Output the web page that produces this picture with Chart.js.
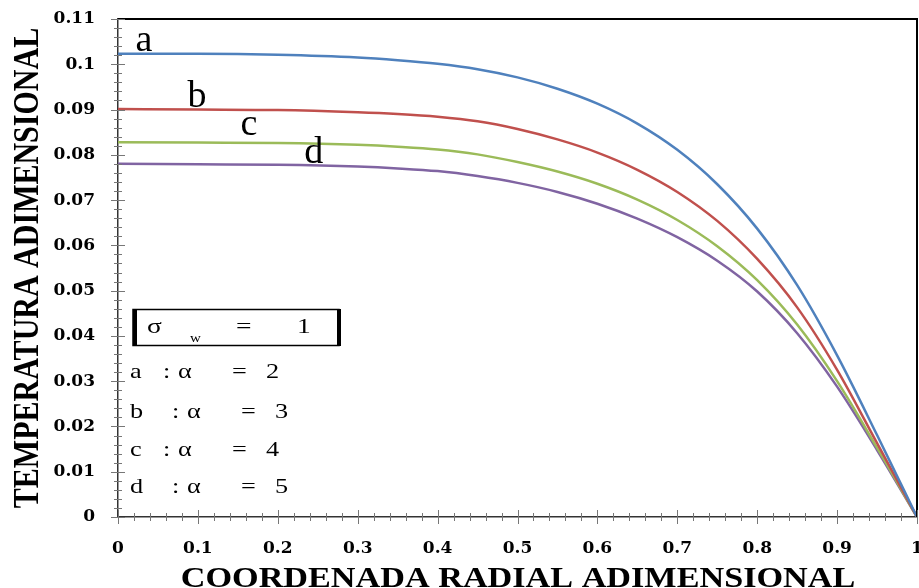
<!DOCTYPE html>
<html>
<head>
<meta charset="utf-8">
<script src="https://cdn.jsdelivr.net/npm/chart.js@4.4.0/dist/chart.umd.min.js"></script>
<style>
  html, body { margin: 0; padding: 0; background: #fff; }
  #wrap { width: 919px; height: 588px; position: relative; }
</style>
</head>
<body>
<div id="wrap"><canvas id="chart"></canvas></div>
<script>
// ----- Data -----
const radius = [0, 0.1, 0.2, 0.3, 0.35, 0.4, 0.45, 0.5, 0.55, 0.6, 0.65, 0.7, 0.75, 0.8, 0.85, 0.9, 0.95, 1];
const tempA = [0.1023, 0.1023, 0.1021, 0.1015, 0.1009, 0.1001, 0.0989, 0.0971, 0.0946, 0.0913, 0.0869, 0.0811, 0.0735, 0.0637, 0.0512, 0.0357, 0.0181, 0];
const tempB = [0.0901, 0.0900, 0.0899, 0.0894, 0.0890, 0.0884, 0.0874, 0.0857, 0.0834, 0.0805, 0.0767, 0.0718, 0.0654, 0.0570, 0.0463, 0.0325, 0.0163, 0];
const tempC = [0.0828, 0.0827, 0.0826, 0.0822, 0.0818, 0.0812, 0.0801, 0.0784, 0.0763, 0.0736, 0.0701, 0.0656, 0.0598, 0.0523, 0.0425, 0.0300, 0.0153, 0];
const tempD = [0.0780, 0.0779, 0.0778, 0.0774, 0.0770, 0.0764, 0.0753, 0.0738, 0.0718, 0.0692, 0.0659, 0.0618, 0.0566, 0.0498, 0.0406, 0.0288, 0.0148, 0];
const curveTags = ["a", "b", "c", "d"];
const alphaValues = [2, 3, 4, 5];
const sigmaW = 1;

const colors = ["#4f81bd", "#c0504d", "#9bbb59", "#8064a2"];
const serif = "'Liberation Serif', 'Times New Roman', serif";
const wideSerif = "'DejaVu Serif', serif";

function toPoints(ys) {
  return radius.map((r, i) => ({ x: r, y: ys[i] }));
}

// text stretched sideways, like the original figure
function wideText(ctx, txt, px, py, sx) {
  ctx.save();
  ctx.translate(px, py);
  ctx.scale(sx, 1);
  ctx.fillText(txt, 0, 0);
  ctx.restore();
}

// ----- Extra drawing: frame, crossing ticks, tags, parameter box, axis titles -----
const decorations = {
  id: "decorations",
  afterDraw(chart) {
    const { ctx, chartArea: a, scales: { x, y } } = chart;
    ctx.save();

    // top and right frame
    ctx.strokeStyle = "#000";
    ctx.lineWidth = 2;
    ctx.beginPath();
    ctx.moveTo(a.left, a.top);
    ctx.lineTo(a.right, a.top);
    ctx.lineTo(a.right, a.bottom);
    ctx.stroke();

    // ticks crossing the axes (5 minor steps per major)
    ctx.strokeStyle = "#777";
    ctx.lineWidth = 1;
    ctx.beginPath();
    for (let i = 0; i <= 50; i++) {
      const px = Math.round(x.getPixelForValue(i * 0.02)) + 0.5;
      const len = i % 5 === 0 ? 7 : 4;
      ctx.moveTo(px, a.bottom - len);
      ctx.lineTo(px, a.bottom + len);
    }
    for (let i = 0; i <= 55; i++) {
      const py = Math.round(y.getPixelForValue(i * 0.002)) + 0.5;
      const len = i % 5 === 0 ? 7 : 4;
      ctx.moveTo(a.left - len, py);
      ctx.lineTo(a.left + len, py);
    }
    ctx.stroke();

    // curve tags
    const tagAt = [[0.0325, 0.1029], [0.099, 0.0906], [0.164, 0.0843], [0.245, 0.0781]];
    ctx.fillStyle = "#000";
    ctx.font = "38px " + serif;
    ctx.textAlign = "center";
    ctx.textBaseline = "alphabetic";
    curveTags.forEach((t, i) => {
      ctx.fillText(t, x.getPixelForValue(tagAt[i][0]), y.getPixelForValue(tagAt[i][1]));
    });

    // parameter box
    ctx.strokeStyle = "#000";
    ctx.lineWidth = 1.5;
    ctx.strokeRect(133, 309.5, 206, 36);
    ctx.lineWidth = 4;
    ctx.beginPath();
    ctx.moveTo(135, 309); ctx.lineTo(135, 346);
    ctx.moveTo(339, 309); ctx.lineTo(339, 346);
    ctx.stroke();

    ctx.textAlign = "left";
    const sx = 1.25;
    ctx.font = "22px " + serif;
    wideText(ctx, "\u03c3", 147, 333, sx);
    ctx.font = "12px " + serif;
    wideText(ctx, "w", 190, 342, sx);
    ctx.font = "22px " + serif;
    wideText(ctx, "=", 236, 333, sx);
    wideText(ctx, String(sigmaW), 297, 333, sx);

    ctx.font = "21px " + serif;
    const rowY = [378, 418, 456, 493];
    const shift = [0, 9, 0, 9];
    curveTags.forEach((t, i) => {
      wideText(ctx, t, 130, rowY[i], sx);
      wideText(ctx, ":", 163 + shift[i], rowY[i], sx);
      wideText(ctx, "\u03b1", 178 + shift[i], rowY[i], sx);
      wideText(ctx, "=", 232 + shift[i], rowY[i], sx);
      wideText(ctx, String(alphaValues[i]), 266 + shift[i], rowY[i], sx);
    });

    // axis titles
    ctx.font = "bold 30px " + serif;
    ctx.textAlign = "center";
    wideText(ctx, "COORDENADA RADIAL ADIMENSIONAL", 518, 587, 1.14);
    ctx.translate(38, 268);
    ctx.rotate(-Math.PI / 2);
    ctx.scale(1, 1.2);
    ctx.fillText("TEMPERATURA ADIMENSIONAL", 0, 0);

    ctx.restore();
  }
};

const ctx = document.getElementById("chart").getContext("2d");
new Chart(ctx, {
  type: "line",
  data: {
    datasets: [tempA, tempB, tempC, tempD].map((ys, i) => ({
      label: curveTags[i],
      data: toPoints(ys),
      borderColor: colors[i],
      borderWidth: 2.5,
      pointRadius: 0,
      fill: false,
      cubicInterpolationMode: "monotone"
    }))
  },
  options: {
    responsive: true,
    maintainAspectRatio: false,
    animation: false,
    layout: { padding: { top: 19, right: 2, left: 0, bottom: 0 } },
    plugins: {
      legend: { display: false },
      tooltip: { enabled: false }
    },
    scales: {
      x: {
        type: "linear",
        min: 0,
        max: 1,
        afterFit: s => { s.height = 71; s.paddingLeft = 0; s.paddingRight = 0; },
        grid: { display: false, drawTicks: false },
        border: { display: true, color: "#333", width: 1.5 },
        ticks: {
          stepSize: 0.1,
          padding: 21,
          color: "#000",
          maxRotation: 0,
          font: { family: wideSerif, size: 17, weight: "bold" },
          callback: v => String(Math.round(v * 10) / 10)
        }
      },
      y: {
        min: 0,
        max: 0.11,
        afterFit: s => { s.width = 118; s.paddingTop = 0; s.paddingBottom = 0; },
        grid: { display: false, drawTicks: false },
        border: { display: true, color: "#333", width: 1.5 },
        ticks: {
          stepSize: 0.01,
          padding: 23,
          color: "#000",
          font: { family: wideSerif, size: 17, weight: "bold" },
          callback: v => String(Math.round(v * 100) / 100)
        }
      }
    }
  },
  plugins: [decorations]
});
</script>
</body>
</html>
